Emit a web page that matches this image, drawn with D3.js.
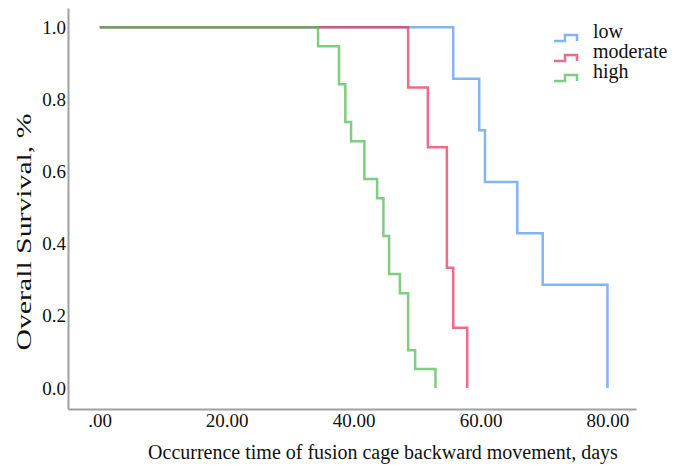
<!DOCTYPE html>
<html>
<meta charset="utf-8">
<head>
    <script src="https://d3js.org/d3.v7.min.js"></script>
</head>

<style>
  body { margin: 0; background: #fff; }
  svg .axis path { stroke: #a0a0a0; stroke-width: 2; }
  svg .curve { fill: none; stroke-width: 2.5; stroke-opacity: 0.75; }
</style>

<body>
    <script>
        // survival steps (time in days, survival share)
        var lowTimes = [0, 55.7, 59.8, 60.7, 65.8, 69.8, 80.0],
            lowSurv  = [1, 0.857, 0.714, 0.571, 0.429, 0.286, 0];
        var modTimes = [0, 48.6, 51.7, 54.7, 55.7, 57.9],
            modSurv  = [1, 0.833, 0.667, 0.333, 0.167, 0];
        var highTimes = [0, 34.4, 37.7, 38.7, 39.6, 41.7, 43.7, 44.7, 45.6, 47.3, 48.6, 49.7, 52.9],
            highSurv  = [1, 0.947, 0.842, 0.737, 0.684, 0.579, 0.526, 0.421, 0.316, 0.263, 0.105, 0.053, 0];

        var groups = ["low", "moderate", "high"],
            colors = ["#5a9cf0", "#e63b62", "#55bb55"];
        var xTicks = [0, 20, 40, 60, 80],
            yTicks = [0, 0.2, 0.4, 0.6, 0.8, 1.0];

        var width = 681, height = 465,
            serif = "'Liberation Serif', 'Times New Roman', serif";

        var svg = d3.select("body").append("svg")
            .attr("width", width)
            .attr("height", height)
            .attr("font-family", serif);

        var x = d3.scaleLinear().domain([-5, 84.5]).range([68, 636]);
        var y = d3.scaleLinear().domain([-0.058, 1.053]).range([409, 8]);

        // axes
        var xAxis = svg.append("g")
            .attr("class", "axis")
            .attr("transform", "translate(0,409)")
            .call(d3.axisBottom(x).tickValues(xTicks).tickSize(0).tickPadding(4.5)
                .tickFormat(function(d) { return d === 0 ? ".00" : d.toFixed(2); }));

        var yAxis = svg.append("g")
            .attr("class", "axis")
            .attr("transform", "translate(68,0)")
            .call(d3.axisLeft(y).tickValues(yTicks).tickSize(0).tickPadding(2)
                .tickFormat(d3.format(".1f")));

        [xAxis, yAxis].forEach(function(a) {
            a.attr("font-family", serif).attr("font-size", 19);
            a.selectAll("text").attr("fill", "#111");
        });

        // curves
        var series = [
            d3.zip(lowTimes, lowSurv),
            d3.zip(modTimes, modSurv),
            d3.zip(highTimes, highSurv)
        ];

        var line = d3.line()
            .x(function(d) { return x(d[0]); })
            .y(function(d) { return y(d[1]); })
            .curve(d3.curveStepAfter);

        svg.append("g").selectAll("path")
            .data(series)
            .enter().append("path")
            .attr("class", "curve")
            .attr("stroke", function(d, i) { return colors[i]; })
            .attr("d", line);

        // legend
        var legend = svg.append("g").attr("transform", "translate(554,0)");
        var rows = [38, 58, 78];
        groups.forEach(function(g, i) {
            var by = rows[i];
            legend.append("path")
                .attr("class", "curve")
                .attr("stroke", colors[i])
                .attr("d", "M0," + (by + 3) + "H11V" + (by - 3) + "H23V" + (by + 3));
            legend.append("text")
                .attr("x", 39)
                .attr("y", by)
                .attr("font-size", 20)
                .attr("fill", "#111")
                .text(g);
        });

        // axis titles
        svg.append("text")
            .attr("x", 383)
            .attr("y", 459)
            .attr("text-anchor", "middle")
            .attr("font-size", 20)
            .attr("fill", "#111")
            .text("Occurrence time of fusion cage backward movement, days");

        svg.append("text")
            .attr("transform", "translate(31,232) rotate(-90)")
            .attr("text-anchor", "middle")
            .attr("font-size", 20)
            .attr("fill", "#111")
            .attr("textLength", 237)
            .attr("lengthAdjust", "spacingAndGlyphs")
            .text("Overall Survival, %");
    </script>
</body>
</html>
